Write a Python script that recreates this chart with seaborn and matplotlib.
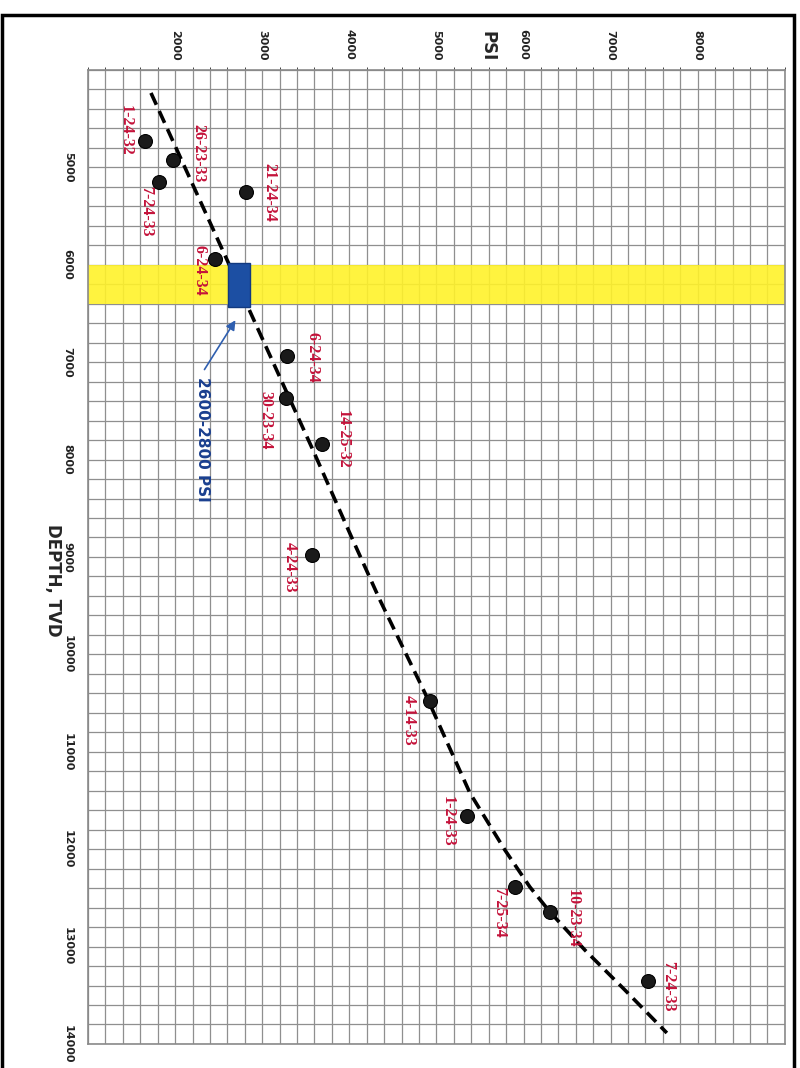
import matplotlib
matplotlib.use("Agg")
import matplotlib.pyplot as plt
import seaborn as sns
import pandas as pd
from matplotlib.patches import Rectangle
from matplotlib.ticker import MultipleLocator

# well pressure vs depth, sheet was scanned sideways so draw it rotated
wells = ["1-24-32", "26-23-33", "7-24-33", "21-24-34", "6-24-34", "6-24-34",
         "30-23-34", "14-25-32", "4-24-33", "4-14-33", "1-24-33", "7-25-34",
         "10-23-34", "7-24-33"]
psi = [1660, 1980, 1815, 2810, 2455, 3290, 3275, 3685, 3570, 4925, 5355,
       5900, 6305, 7435]
depth = [4725, 4925, 5150, 5255, 5940, 6935, 7365, 7845, 8980, 10475, 11655,
         12390, 12650, 13355]

# hand drawn dashed trend
trend_psi = [1723, 2607, 2836, 3582, 4030, 4351, 4868, 5384, 5786, 6073,
             6303, 6704, 7164, 7646]
trend_depth = [4236, 5971, 6433, 7901, 8805, 9441, 10396, 11422, 12008, 12388,
               12644, 13035, 13446, 13887]

band = (6000, 6400)          # depth window
target = (2610, 2860)        # psi window, "2600-2800 PSI"
psi_ticks = [2000, 3000, 4000, 5000, 6000, 7000, 8000]
depth_ticks = list(range(5000, 14001, 1000))

# label offsets (points) from each dot
offsets = [(-14, 7), (18, 5), (-9, -21), (17, 0), (-11, -8), (18, -1),
           (-15, -16), (15, 4), (-16, -9), (-15, -14), (-14, -4), (-11, -18),
           (16, -4), (14, -4)]

df = pd.DataFrame({"well": wells, "psi": psi, "depth": depth})
trend = pd.DataFrame({"psi": trend_psi, "depth": trend_depth})

sns.set_style("white")
RED = "#c4123a"
BLUE = "#1c4fa3"
num_font = ["Liberation Sans Narrow", "DejaVu Sans"]

fig = plt.figure(figsize=(8, 10.68), dpi=100)
ax = fig.add_axes([0.11, 0.0225, 0.871, 0.912])

ax.set_xlim(1000, 9000)
ax.set_ylim(14000, 4000)
ax.xaxis.set_minor_locator(MultipleLocator(200))
ax.yaxis.set_minor_locator(MultipleLocator(200))
ax.set_xticks(psi_ticks)
ax.set_yticks(depth_ticks)
ax.grid(which="both", color="#8f8f8f", linewidth=0.9, zorder=0)
ax.set_axisbelow(True)
for s in ax.spines.values():
    s.set_color("#8a8a8a")
    s.set_linewidth(1.2)

ax.xaxis.tick_top()
ax.tick_params(axis="both", length=0)
ax.set_xticklabels([str(t) for t in psi_ticks], rotation=-90, fontsize=8,
                   family=num_font, fontweight="bold", color="#222222")
ax.set_yticklabels([str(t) for t in depth_ticks], rotation=-90, fontsize=8,
                   family=num_font, fontweight="bold", color="#222222", va="center")
ax.tick_params(axis="x", pad=7)
ax.tick_params(axis="y", pad=11)

ax.axhspan(band[0], band[1], color="#fff22a", alpha=0.9, zorder=1, lw=0)
ax.add_patch(Rectangle((target[0], band[0] - 20), target[1] - target[0],
                       band[1] - band[0] + 50, facecolor=BLUE,
                       edgecolor="#123a80", lw=1, zorder=4))

sns.lineplot(data=trend, x="psi", y="depth", sort=False, color="black",
             linewidth=2.6, linestyle=(0, (3.6, 1.9)), ax=ax, zorder=3)
sns.scatterplot(data=df, x="psi", y="depth", color="#1a1a1a", s=100,
                edgecolor="black", ax=ax, zorder=5)
ax.set_xlabel("")
ax.set_ylabel("")

for (_, r), off in zip(df.iterrows(), offsets):
    ax.annotate(r["well"], (r["psi"], r["depth"]), xytext=off,
                textcoords="offset points", rotation=-90, ha="center",
                va="center", color=RED, fontsize=11.5, fontweight="bold",
                family="Liberation Serif", zorder=6)

ax.annotate("", xy=(2710, 6545), xytext=(2320, 7100),
            arrowprops=dict(arrowstyle="-|>", color="#2f5fb0", lw=1.2,
                            mutation_scale=14), zorder=6)
ax.text(2320, 7790, "2600-2800 PSI", rotation=-90, ha="center", va="center",
        color="#1a3f8f", fontsize=11, fontweight="bold", family=num_font, zorder=6)

fig.text(487 / 800, 1 - 46 / 1068, "PSI", rotation=-90, ha="center",
         va="center", fontsize=12, fontweight="bold", family=num_font)
fig.text(53 / 800, 1 - 580 / 1068, "DEPTH, TVD", rotation=-90, ha="center",
         va="center", fontsize=12, fontweight="bold", family=num_font)

# page border of the scan
fig.add_artist(Rectangle((0.003, -0.01), 0.989, 0.996, transform=fig.transFigure,
                         fill=False, edgecolor="black", lw=2.5))

fig.savefig("out.png", dpi=100)
